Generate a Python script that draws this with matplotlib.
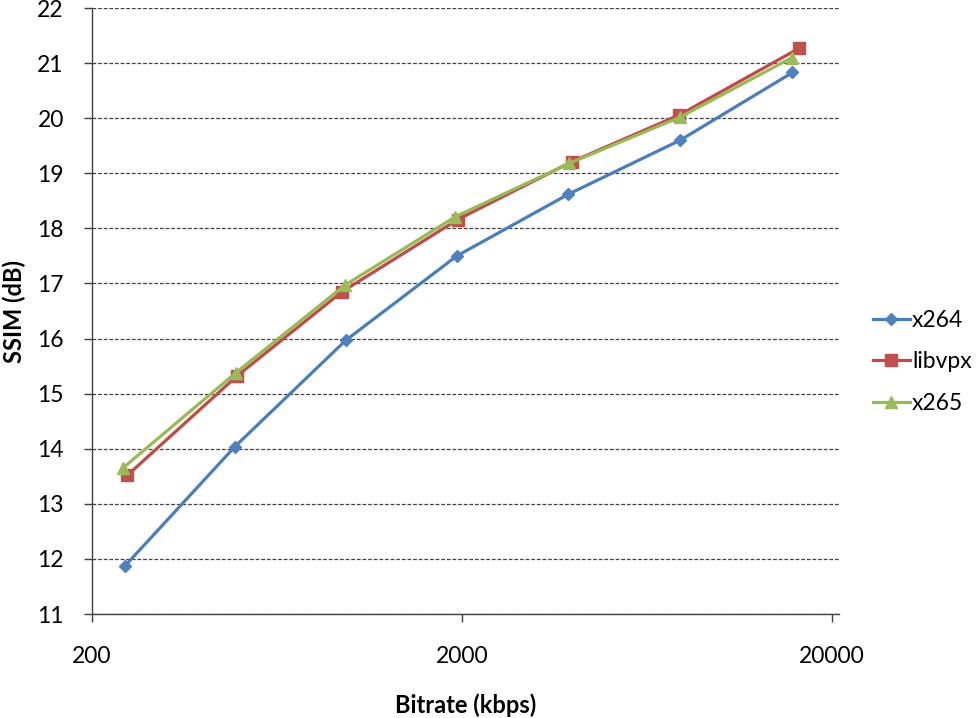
import matplotlib
matplotlib.use("Agg")
import matplotlib.pyplot as plt
from matplotlib.ticker import FixedLocator, NullLocator

plt.rcParams["font.family"] = ["Lato", "DejaVu Sans"]

# bitrate (kbps) and SSIM (dB) per encoder
x264_rate = [246, 488, 973, 1940, 3882, 7781, 15655]
x264_ssim = [11.87, 14.04, 15.97, 17.50, 18.62, 19.60, 20.83]
vpx_rate = [250, 494, 950, 1950, 3967, 7748, 16317]
vpx_ssim = [13.52, 15.32, 16.85, 18.16, 19.21, 20.06, 21.27]
x265_rate = [243, 491, 967, 1920, 3900, 7781, 15597]
x265_ssim = [13.65, 15.38, 16.97, 18.21, 19.18, 20.02, 21.10]

series = [
    ("x264", x264_rate, x264_ssim, "#4A7EBB", "#4F81BD", "D", 6.5),
    ("libvpx", vpx_rate, vpx_ssim, "#BE4B48", "#C0504D", "s", 8),
    ("x265", x265_rate, x265_ssim, "#98B954", "#9BBB59", "^", 9),
]

x_ticks = [200, 2000, 20000]
y_ticks = list(range(11, 23))

fig = plt.figure(figsize=(9.77, 7.18), dpi=100)
ax = fig.add_axes([0.0937, 0.1448, 0.765, 0.844])

for name, rate, ssim, lc, mc, mk, ms in series:
    ax.plot(rate, ssim, color=lc, linewidth=2.3, marker=mk, markersize=ms,
            markerfacecolor=mc, markeredgecolor=mc, label=name)

ax.set_xscale("log")
ax.set_xlim(200, 20900)
ax.set_ylim(11, 22)
ax.xaxis.set_major_locator(FixedLocator(x_ticks))
ax.xaxis.set_minor_locator(NullLocator())
ax.set_xticklabels([str(t) for t in x_ticks])
ax.set_yticks(y_ticks)

ax.yaxis.grid(True, linestyle=(0, (3, 1.5)), color="#404040", linewidth=0.9)
ax.set_axisbelow(True)
for side in ("top", "right"):
    ax.spines[side].set_visible(False)
for side in ("left", "bottom"):
    ax.spines[side].set_color("#404040")
    ax.spines[side].set_linewidth(1.0)

ax.tick_params(axis="y", length=6, width=1, color="#404040", labelsize=16.5, pad=14)
ax.tick_params(axis="x", length=6, width=1, color="#404040", labelsize=16.5, pad=17)

ax.set_xlabel("Bitrate (kbps)", fontsize=17, fontweight="bold")
ax.set_ylabel("SSIM (dB)", fontsize=17, fontweight="bold")
ax.xaxis.set_label_coords(0.5, -0.150)
ax.yaxis.set_label_coords(-0.103, 0.5)
ax.xaxis.label.set_va("center")
ax.yaxis.label.set_va("center")

fig.legend(loc="center left", bbox_to_anchor=(873 / 977, 0.496), frameon=False,
           fontsize=16.5, handlelength=1.6, handletextpad=0.1, labelspacing=0.9,
           borderpad=0, borderaxespad=0)

fig.savefig("out.png", dpi=100)
